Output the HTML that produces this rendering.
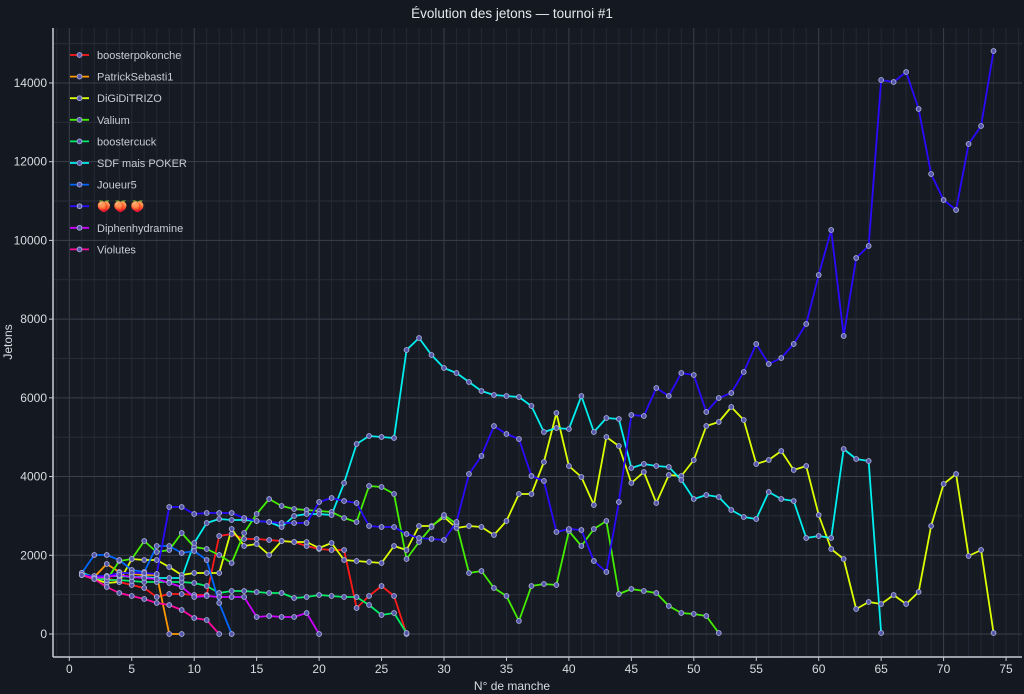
<!DOCTYPE html>
<html><head><meta charset="utf-8"><style>
html,body{margin:0;padding:0;background:#141821;}
svg{display:block;font-family:"Liberation Sans","Noto Sans CJK SC",sans-serif;}
</style></head><body>
<svg id="s" width="1024" height="694" xmlns="http://www.w3.org/2000/svg">
<rect width="1024" height="694" fill="#141821"/>
<rect x="53" y="28" width="969" height="629" fill="#161a23"/>
<g id="grid"></g>
<line x1="53" y1="28" x2="53" y2="657" stroke="#c8ccd4" stroke-width="1.5"/>
<line x1="53" y1="657" x2="1022" y2="657" stroke="#c8ccd4" stroke-width="1.5"/>
<g id="ticks" fill="#d8dce2" font-size="12"></g>
<text x="512" y="18" fill="#e6e8ec" font-size="13.5" text-anchor="middle">Évolution des jetons — tournoi #1</text>
<text x="512" y="690" fill="#d8dce2" font-size="12" text-anchor="middle">N° de manche</text>
<text transform="translate(12,342) rotate(-90)" fill="#d8dce2" font-size="12" text-anchor="middle">Jetons</text>
<g id="series"></g>
<g id="legend" font-size="11" fill="#c8ccd4"></g>
</svg>
<script>
const NS="http://www.w3.org/2000/svg";
function el(t,a,p){const e=document.createElementNS(NS,t);for(const k in a)e.setAttribute(k,a[k]);p.appendChild(e);return e;}
const X=i=>69.3+12.49*i;
const grid=document.getElementById('grid');
for(let i=-1;i<=76;i++){const x=X(i);if(x<53||x>1022)continue;
 el('line',{x1:x,y1:28,x2:x,y2:657,stroke:i%10==0?'#3a3f4b':'#242935','stroke-width':1},grid);}
for(let v=0;v<=15000;v+=1000){const y=634-v*0.03936;
 el('line',{x1:53,y1:y,x2:1022,y2:y,stroke:v%2000==0?'#3a3f4b':'#282d39','stroke-width':1},grid);}
const tk=document.getElementById('ticks');
for(let i=0;i<=75;i+=5){el('line',{x1:X(i),y1:657,x2:X(i),y2:661,stroke:'#c8ccd4'},tk);
 const t=el('text',{x:X(i),y:673,'text-anchor':'middle'},tk);t.textContent=i;}
for(let v=0;v<=14000;v+=2000){const y=634-v*0.03936;el('line',{x1:49,y1:y,x2:53,y2:y,stroke:'#c8ccd4'},tk);
 const t=el('text',{x:47,y:y+4,'text-anchor':'end'},tk);t.textContent=v;}
const S=[
['boosterpokonche','#ff1a1a',[573,577,578,582,585,588,597,594,594,595,595,536,534,539,539,540,541,542,546,549,550,550,608,596,586,596,634]],
['PatrickSebasti1','#ff9900',[574,577,564,572,574,575,575,634,634]],
['DiGiDiTRIZO','#ddff00',[575,579,583,582,559,560,560,567,575,573,573,573,529,546,544,555,541,542,542,548,543,560,561,562,563,546,550,526,526,517,528,526,527,535,521,494,494,462,413,466,477,505,437,446,483,472,503,475,476,460,426,422,407,420,464,460,451,470,466,515,549,559,609,602,604,595,604,592,526,484,474,556,550,633]],
['Valium','#44ee00',[573,577,580,561,559,541,552,550,533,547,549,555,563,533,514,499,506,509,510,511,512,518,522,486,487,494,559,542,527,515,524,573,571,588,596,621,586,584,585,531,546,529,521,594,589,591,593,606,613,614,616,633]],
['boostercuck','#00ee66',[575,578,580,580,581,582,582,582,582,583,586,593,591,591,592,593,593,598,597,595,596,597,597,605,615,613,633]],
['SDF mais POKER','#00eeee',[573,577,576,576,577,577,578,578,578,543,523,519,520,520,521,522,527,516,514,514,515,483,444,436,437,438,350,338,355,368,373,382,391,395,396,397,406,432,428,429,396,432,418,419,468,464,466,467,480,499,495,497,510,517,519,492,499,501,538,536,538,449,459,461,633]],
['Joueur5','#0066ff',[573,555,555,560,570,572,546,546,553,551,560,603,634]],
['🍑 🍑 🍑','#2a0aff',[575,576,576,573,573,573,574,507,507,514,513,513,513,518,521,522,523,523,523,502,498,501,503,526,527,527,534,538,539,540,522,474,456,426,434,439,476,481,532,529,530,561,572,502,415,416,388,396,373,375,412,398,393,372,344,364,358,344,324,275,230,336,258,246,80,82,72,109,174,200,210,144,126,51]],
['Diphenhydramine','#cc00ff',[575,578,577,575,577,578,579,583,587,597,596,597,597,597,617,616,617,617,613,634]],
['Violutes','#ff0aa0',[575,579,587,593,596,599,603,605,610,618,620,634]]
];
const sg=document.getElementById('series');
S.forEach(([n,c,d])=>{el('polyline',{points:d.map((y,i)=>X(i+1)+','+y).join(' '),fill:'none',stroke:c,'stroke-width':1.8,'stroke-linejoin':'round'},sg);});
S.forEach(([n,c,d])=>{d.forEach((y,i)=>el('circle',{cx:X(i+1),cy:y,r:2.4,fill:'#5555aa',stroke:'#aab0d8','stroke-width':0.9},sg));});
const lg=document.getElementById('legend');
S.forEach(([n,c],k)=>{const y=55+k*21.6;
 el('line',{x1:70,y1:y,x2:89,y2:y,stroke:c,'stroke-width':1.8},lg);
 el('circle',{cx:79.5,cy:y,r:2.4,fill:'#5555aa',stroke:'#aab0d8','stroke-width':0.9},lg);
 const t=el('text',{x:97,y:y+4},lg);t.textContent=n;});
</script>
</body></html>
